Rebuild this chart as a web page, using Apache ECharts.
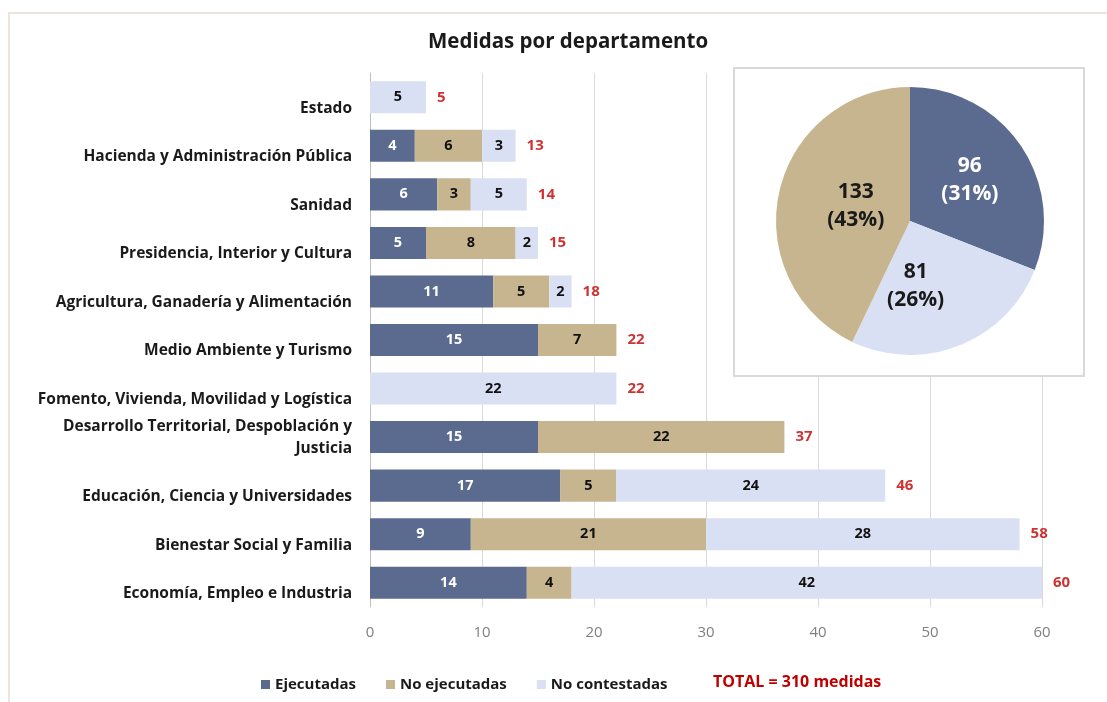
<!DOCTYPE html>
<html>
<head>
<meta charset="utf-8">
<script src="https://cdn.jsdelivr.net/npm/echarts@6/dist/echarts.min.js"></script>
<style>
	html, body { margin: 0; padding: 0; background: #fff; }
	#chart { width: 1107px; height: 702px; }
</style>
</head>
<body>
<div id="chart"></div>
<script>
const departments = [
	'Estado',
	'Hacienda y Administración Pública',
	'Sanidad',
	'Presidencia, Interior y Cultura',
	'Agricultura, Ganadería y Alimentación',
	'Medio Ambiente y Turismo',
	'Fomento, Vivienda, Movilidad y Logística',
	'Desarrollo Territorial, Despoblación y\nJusticia',
	'Educación, Ciencia y Universidades',
	'Bienestar Social y Familia',
	'Economía, Empleo e Industria'
];
const ejecutadas = [0, 4, 6, 5, 11, 15, 0, 15, 17, 9, 14];
const noEjecutadas = [0, 6, 3, 8, 5, 7, 0, 22, 5, 21, 4];
const noContestadas = [5, 3, 5, 2, 2, 0, 22, 0, 24, 28, 42];
const totals = [5, 13, 14, 15, 18, 22, 22, 37, 46, 58, 60];
const xTicks = [0, 10, 20, 30, 40, 50, 60];

// pie as drawn in the picture (clockwise from the top)
const pieNames = ['Ejecutadas', 'No contestadas', 'No ejecutadas'];
const pieValues = [96, 81, 133];
const piePercents = [31, 26, 43];

const colors = {
	ejec: '#5b6a8f',
	noEjec: '#c7b590',
	noCont: '#dae0f3'
};
const font = '"Open Sans", sans-serif';

let chart = echarts.init(document.getElementById('chart'));

let segLabel = (color) => ({
	show: true,
	color: color,
	fontFamily: font,
	fontWeight: 'bold',
	fontSize: 14.5,
	formatter: (p) => p.value ? p.value : ''
});

chart.setOption({
	animation: false,
	title: {
		text: 'Medidas por departamento',
		left: 423,
		top: 27,
		textStyle: { fontFamily: font, fontWeight: 'bold', fontSize: 20.5, color: '#1a1a1a' }
	},
	grid: { left: 370, right: 65, top: 73, height: 534 },
	legend: {
		left: 256,
		top: 672,
		itemWidth: 9,
		itemHeight: 9,
		itemGap: 30,
		icon: 'rect',
		data: ['Ejecutadas', 'No ejecutadas', 'No contestadas'],
		textStyle: { fontFamily: font, fontWeight: 'bold', fontSize: 15, color: '#1a1a1a' }
	},
	xAxis: {
		type: 'value',
		min: xTicks[0],
		max: xTicks[xTicks.length - 1],
		interval: 10,
		axisLine: { show: false },
		axisTick: { show: false },
		axisLabel: { color: '#7f7f7f', fontFamily: font, fontSize: 15, margin: 18 },
		splitLine: { lineStyle: { color: '#d9d9d9', width: 1 } }
	},
	yAxis: {
		type: 'category',
		inverse: true,
		data: departments,
		axisLine: { lineStyle: { color: '#bfbfbf' } },
		axisTick: { show: false },
		axisLabel: {
			color: '#1a1a1a', fontFamily: font, fontWeight: 'bold', fontSize: 15.5,
			margin: 18, align: 'right', lineHeight: 22,
			// single-line names sit on the lower half of the row, as in the picture
			formatter: (v) => v.indexOf('\n') < 0 ? '\n' + v : v
		}
	},
	graphic: [
		{
			type: 'rect',
			shape: { x: 9, y: 13, width: 1120, height: 720 },
			style: { fill: 'none', stroke: '#ece6da', lineWidth: 2 },
			z: 0
		},
		{
			type: 'rect',
			shape: { x: 734, y: 68, width: 350, height: 308 },
			style: { fill: '#fff', stroke: '#d9d9d9', lineWidth: 2 },
			z: 1
		},
		{
			type: 'text',
			left: 713,
			top: 674,
			style: {
				text: 'TOTAL = 310 medidas',
				fill: '#c00000',
				fontFamily: font,
				fontWeight: 'bold',
				fontSize: 16
			}
		}
	],
	series: [
		{
			name: 'Ejecutadas',
			type: 'bar',
			stack: 'total',
			barCategoryGap: '34%',
			itemStyle: { color: colors.ejec },
			label: segLabel('#ffffff'),
			data: ejecutadas
		},
		{
			name: 'No ejecutadas',
			type: 'bar',
			stack: 'total',
			itemStyle: { color: colors.noEjec },
			label: segLabel('#111111'),
			data: noEjecutadas
		},
		{
			name: 'No contestadas',
			type: 'bar',
			stack: 'total',
			itemStyle: { color: colors.noCont },
			label: segLabel('#111111'),
			data: noContestadas
		},
		{
			name: 'Total',
			type: 'scatter',
			symbolSize: 0,
			silent: true,
			label: {
				show: true,
				position: 'right',
				distance: 11,
				color: '#c00000',
				fontFamily: font,
				fontWeight: 'bold',
				fontSize: 15,
				formatter: (p) => p.value[0]
			},
			data: totals.map((t, i) => [t, i])
		},
		{
			name: 'Resumen',
			type: 'pie',
			z: 3,
			center: [910, 221],
			radius: 134,
			startAngle: 90,
			clockwise: true,
			label: {
				show: true,
				position: 'inside',
				fontFamily: font,
				fontWeight: 'bold',
				fontSize: 21,
				lineHeight: 28,
				formatter: (p) => p.value + '\n(' + piePercents[p.dataIndex] + '%)'
			},
			labelLine: { show: false },
			data: pieNames.map((n, i) => ({
				name: n,
				value: pieValues[i],
				itemStyle: { color: [colors.ejec, colors.noCont, colors.noEjec][i] },
				label: {
					color: i === 0 ? '#ffffff' : '#1a1a1a',
					offset: [[2, -2], [-20, 0], [14, 0]][i]
				}
			}))
		}
	]
});
</script>
</body>
</html>
